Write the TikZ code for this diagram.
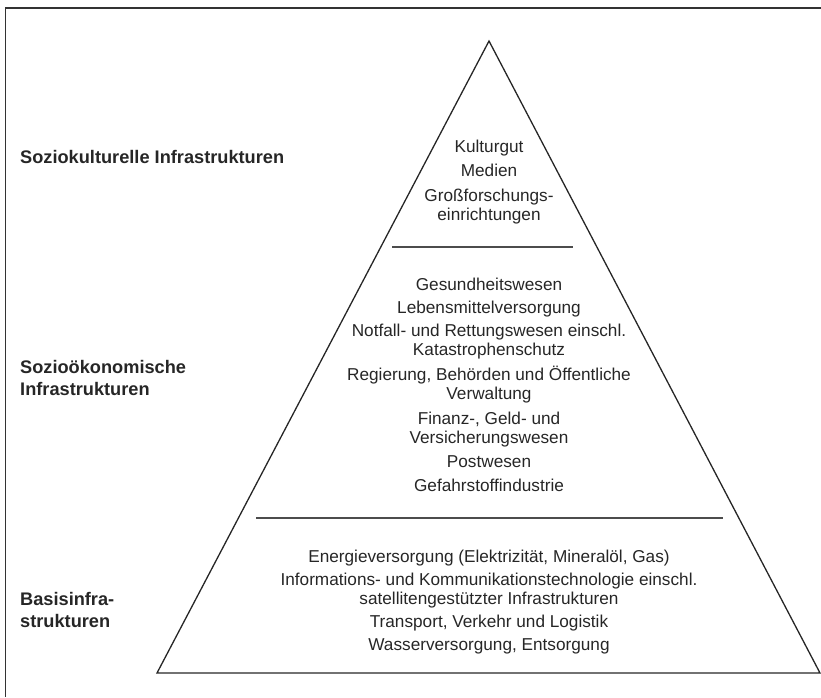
\documentclass[tikz,border=0pt]{standalone}
\usepackage{fontspec}
\setmainfont{Liberation Sans}
\begin{document}
\begin{tikzpicture}[x=1pt,y=-1pt,
  frame/.style={line width=1.6pt,draw=black!80},
  pyr/.style={line width=1.3pt,draw=black!85,line join=miter},
  divider/.style={line width=1.3pt,draw=black!70},
  item/.style={align=center,anchor=base,inner sep=0pt,text=black!85,
    font=\fontsize{17.2}{18.5}\selectfont},
  level/.style={align=left,anchor=base west,inner sep=0pt,text=black!85,
    font=\fontsize{18.2}{22}\selectfont\bfseries}]
\useasboundingbox (0,0) rectangle (821,697);
% frame
\coordinate (fTL) at (5.5,8);
\coordinate (fTR) at (821,8);
\coordinate (fBL) at (5.5,697);
\draw[frame] (fTR) -- (fTL) -- (fBL);
% pyramid
\coordinate (apex) at (489,41);
\coordinate (bl) at (157,673);
\coordinate (br) at (820,673);
\draw[pyr] (apex) -- (bl) -- (br) -- cycle;
\coordinate (d1a) at (392,247);
\coordinate (d1b) at (573,247);
\coordinate (d2a) at (256,518);
\coordinate (d2b) at (723,518);
\draw[divider] (d1a) -- (d1b);
\draw[divider] (d2a) -- (d2b);
% level labels (multi-line nodes: base = last line)
\node[level] (l1) at (20,163) {Soziokulturelle Infrastrukturen};
\node[level] (l2) at (20,395) {Sozioökonomische\\Infrastrukturen};
\node[level] (l3) at (20,627) {Basisinfra-\\strukturen};
% top items
\node[item] (t1) at (489,152) {Kulturgut};
\node[item] (t2) at (489,176) {Medien};
\node[item] (t3) at (489,220) {Großforschungs-\\einrichtungen};
% middle items
\node[item] (m1) at (489,290) {Gesundheitswesen};
\node[item] (m2) at (489,313) {Lebensmittelversorgung};
\node[item] (m3) at (489,355) {Notfall- und Rettungswesen einschl.\\Katastrophenschutz};
\node[item] (m4) at (489,399) {Regierung, Behörden und Öffentliche\\Verwaltung};
\node[item] (m5) at (489,443) {Finanz-, Geld- und\\Versicherungswesen};
\node[item] (m6) at (489,467) {Postwesen};
\node[item] (m7) at (489,491) {Gefahrstoffindustrie};
% bottom items
\node[item] (b1) at (489,562) {Energieversorgung (Elektrizität, Mineralöl, Gas)};
\node[item] (b2) at (489,604) {Informations- und Kommunikationstechnologie einschl.\\satellitengestützter Infrastrukturen};
\node[item] (b3) at (489,627) {Transport, Verkehr und Logistik};
\node[item] (b4) at (489,650) {Wasserversorgung, Entsorgung};
\end{tikzpicture}
\end{document}
